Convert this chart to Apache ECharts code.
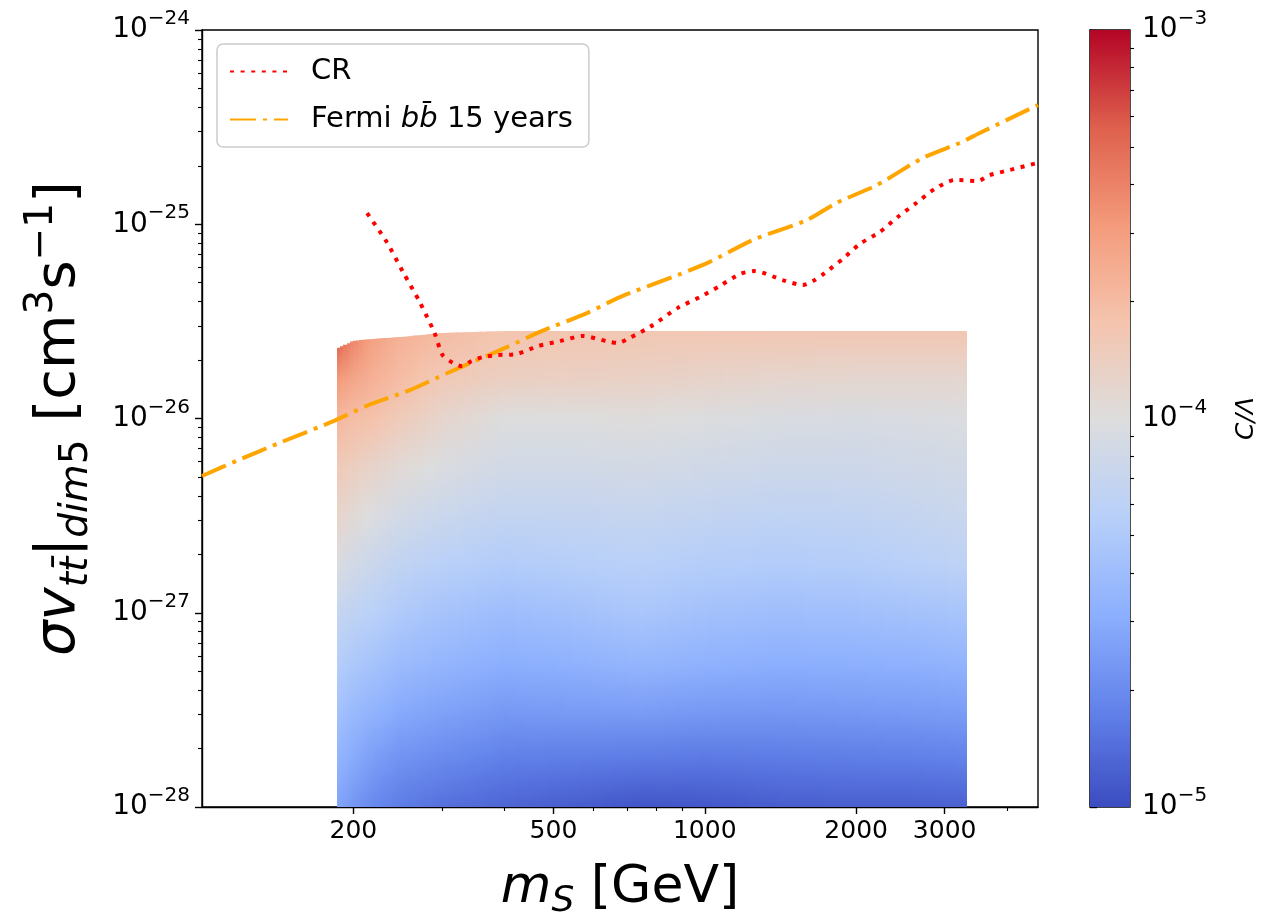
<!DOCTYPE html>
<html>
<head>
<meta charset="utf-8">
<script src="https://cdn.jsdelivr.net/npm/echarts@6/dist/echarts.min.js"></script>
<style>
html, body { margin: 0; padding: 0; background: #fff; }
#main { width: 1274px; height: 919px; }
</style>
</head>
<body>
<div id="main"></div>
<script>
// heat map: columns at these masses (GeV), rows at log10(sigma v), cells = log10(C/Lambda)
var heatMass = [186, 200, 220, 250, 300, 400, 550, 750, 1000, 1400, 2000, 2700, 3300];
var heatTop = [-25.64, -25.6, -25.59, -25.58, -25.56, -25.55, -25.55, -25.55, -25.55, -25.55, -25.55, -25.55, -25.55];
var heatRows = [-28, -27.75, -27.5, -27.25, -27, -26.75, -26.5, -26.25, -26, -25.8, -25.55];
var heatVals = [
    [-4.56, -4.46, -4.36, -4.26, -4.16, -4.02, -3.90, -3.80, -3.67, -3.50, -3.30],
    [-4.64, -4.53, -4.42, -4.31, -4.20, -4.08, -3.96, -3.85, -3.71, -3.57, -3.42],
    [-4.72, -4.60, -4.47, -4.35, -4.24, -4.13, -4.02, -3.90, -3.74, -3.64, -3.55],
    [-4.78, -4.66, -4.53, -4.41, -4.30, -4.19, -4.08, -3.96, -3.82, -3.71, -3.64],
    [-4.83, -4.70, -4.57, -4.45, -4.35, -4.24, -4.13, -4.02, -3.91, -3.80, -3.70],
    [-4.88, -4.76, -4.62, -4.50, -4.40, -4.28, -4.18, -4.08, -4.00, -3.86, -3.76],
    [-4.92, -4.77, -4.61, -4.48, -4.37, -4.26, -4.17, -4.08, -4.00, -3.87, -3.77],
    [-4.96, -4.78, -4.60, -4.45, -4.33, -4.24, -4.16, -4.07, -3.99, -3.88, -3.78],
    [-4.95, -4.79, -4.62, -4.48, -4.37, -4.27, -4.18, -4.09, -4.01, -3.90, -3.78],
    [-4.92, -4.78, -4.63, -4.50, -4.39, -4.28, -4.20, -4.11, -4.03, -3.92, -3.78],
    [-4.91, -4.77, -4.62, -4.49, -4.38, -4.27, -4.19, -4.11, -4.04, -3.93, -3.78],
    [-4.91, -4.76, -4.61, -4.48, -4.36, -4.24, -4.16, -4.09, -4.03, -3.93, -3.78],
    [-4.90, -4.75, -4.60, -4.46, -4.34, -4.21, -4.14, -4.08, -4.02, -3.93, -3.78]
];

// CR limit, sigma v in cm^3/s
var crMass = [213, 233, 251, 271, 290, 301, 316, 329, 344, 362, 386, 423, 466, 515, 572, 638, 671, 709, 778, 884, 978, 1071, 1174, 1257, 1429, 1566, 1655, 1732, 1880, 2033, 2228, 2420, 2639, 2866, 3141, 3490, 3688, 4037, 4600];
var crSigma = [1.14e-25, 8.1e-26, 5.68e-26, 3.98e-26, 2.76e-26, 2.12e-26, 1.93e-26, 1.86e-26, 1.98e-26, 2.07e-26, 2.12e-26, 2.15e-26, 2.36e-26, 2.5e-26, 2.66e-26, 2.5e-26, 2.45e-26, 2.6e-26, 2.96e-26, 3.71e-26, 4.22e-26, 4.81e-26, 5.54e-26, 5.74e-26, 5.16e-26, 4.86e-26, 5.16e-26, 5.61e-26, 6.62e-26, 7.91e-26, 9.12e-26, 1.09e-25, 1.29e-25, 1.52e-25, 1.69e-25, 1.67e-25, 1.79e-25, 1.9e-25, 2.07e-25];

// Fermi bb 15 years
var fermiMass = [100, 118, 144, 181, 214, 259, 307, 404, 470, 583, 678, 884, 1023, 1246, 1595, 1830, 2198, 2710, 3213, 3523, 4600];
var fermiSigma = [5.06e-27, 6.1e-27, 7.57e-27, 9.6e-27, 1.17e-26, 1.40e-26, 1.71e-26, 2.33e-26, 2.79e-26, 3.49e-26, 4.22e-26, 5.48e-26, 6.4e-26, 8.3e-26, 1.05e-25, 1.29e-25, 1.59e-25, 2.19e-25, 2.62e-25, 2.95e-25, 4.11e-25];

var xLabelTicks = [200, 500, 1000, 2000, 3000];
var xMinorTicks = [300, 400, 600, 700, 800, 900, 4000];
var yMajorExp = [-28, -27, -26, -25, -24];
var cbarTicks = [1e-5, 1e-4, 1e-3];

// y axis is drawn in units of 1e-28 cm^3/s (log scale rounds tiny numbers)
var Y0 = -28;
function ys(v) { return v * Math.pow(10, -Y0); }
var yMajorTicks = yMajorExp.map(function (e) { return Math.pow(10, e - Y0); });
var yMinorTicks = [];
for (var d = 0; d < 4; d++) {
    for (var k = 2; k <= 9; k++) yMinorTicks.push(k * Math.pow(10, d));
}
var cbarMinor = [];
for (var d2 = -5; d2 < -3; d2++) {
    for (var k2 = 2; k2 <= 9; k2++) cbarMinor.push(k2 * Math.pow(10, d2));
}

var FONT = 'DejaVu Sans';
var cwStops = ['#3b4cc0', '#6282ea', '#8db0fe', '#b8d0f9', '#dddddd', '#f5c4ad', '#f49a7b', '#de604d', '#b40426'];
function cw(t) {
    return echarts.color.lerp(Math.max(0, Math.min(1, t)), cwStops);
}
function powText(e) {
    return '{b|10}{s|' + (e < 0 ? '\u2212' : '') + Math.abs(e) + '}';
}
var powRich = {
    b: { fontSize: 28, fontFamily: FONT, color: '#000', lineHeight: 42 },
    s: { fontSize: 20, fontFamily: FONT, color: '#000', lineHeight: 42, verticalAlign: 'top' }
};

var myChart = echarts.init(document.getElementById('main'));
var fermiName = 'Fermi bb\u0304 15 years';

var option = {
    backgroundColor: '#fff',
    animation: false,
    grid: [
        { left: 202, top: 30, width: 836, height: 777, show: true, borderColor: '#000', borderWidth: 1.4, backgroundColor: 'transparent', containLabel: false, outerBoundsMode: 'none' },
        { left: 1090, top: 30, width: 40, height: 777, show: true, borderColor: '#000', borderWidth: 1.4, backgroundColor: 'transparent', containLabel: false, outerBoundsMode: 'none' }
    ],
    legend: {
        left: 217, top: 44,
        orient: 'vertical',
        padding: [13, 16, 13, 12],
        itemGap: 19,
        itemWidth: 58,
        itemHeight: 14,
        backgroundColor: '#fff',
        borderColor: '#cccccc',
        borderWidth: 1.5,
        borderRadius: 6,
        itemStyle: { opacity: 0 },
        data: ['CR', fermiName],
        formatter: function (name) {
            if (name === fermiName) return '{t|Fermi }{i|bb\u0304}{t| 15 years}';
            return '{t|' + name + '}';
        },
        textStyle: {
            fontSize: 29, fontFamily: FONT, color: '#000', padding: [0, 0, 0, 18],
            rich: {
                t: { fontSize: 29, fontFamily: FONT, color: '#000' },
                i: { fontSize: 29, fontFamily: FONT, color: '#000', fontStyle: 'italic' }
            }
        }
    },
    xAxis: [
        {
            type: 'log', gridIndex: 0, min: 100, max: 4600,
            axisLine: { lineStyle: { color: '#000', width: 1.4 } },
            axisTick: { customValues: xLabelTicks, length: 7, lineStyle: { color: '#000', width: 1.4 } },
            axisLabel: {
                customValues: xLabelTicks, fontSize: 25, fontFamily: FONT, color: '#000', margin: 12,
                formatter: function (v) { return String(Math.round(v)); }
            },
            splitLine: { show: false },
            name: '{i|m}{sub|S}{t| [GeV]}',
            nameLocation: 'middle',
            nameGap: 49,
            nameTextStyle: {
                rich: {
                    i: { fontSize: 52, fontFamily: FONT, fontStyle: 'italic', color: '#000', lineHeight: 64 },
                    sub: { fontSize: 36, fontFamily: FONT, fontStyle: 'italic', color: '#000', lineHeight: 64, verticalAlign: 'bottom' },
                    t: { fontSize: 52, fontFamily: FONT, color: '#000', lineHeight: 64 }
                }
            }
        },
        {
            type: 'log', gridIndex: 0, min: 100, max: 4600, position: 'bottom',
            axisLine: { show: false },
            axisTick: { customValues: xMinorTicks, length: 4, lineStyle: { color: '#000', width: 1.1 } },
            axisLabel: { show: false },
            splitLine: { show: false }
        },
        {
            type: 'value', gridIndex: 1, min: 0, max: 1, show: false
        }
    ],
    yAxis: [
        {
            type: 'log', gridIndex: 0, min: yMajorTicks[0], max: yMajorTicks[yMajorTicks.length - 1], position: 'left',
            axisLine: { show: true, lineStyle: { color: '#000', width: 1.4 } },
            axisTick: { show: true, customValues: yMajorTicks, length: 7, lineStyle: { color: '#000', width: 1.4 } },
            axisLabel: {
                customValues: yMajorTicks, rich: powRich, margin: 12,
                formatter: function (v) { return powText(Math.round(Math.log10(v)) + Y0); }
            },
            splitLine: { show: false },
            name: '{i|\u03c3v}{sub|tt\u0304}{t||}{sub|dim}{subr|5}{t| [cm}{sup|3}{t|s}{sup|\u22121}{t|]}',
            nameLocation: 'middle',
            nameRotate: 90,
            nameGap: 106,
            nameTextStyle: {
                rich: {
                    i: { fontSize: 56, fontFamily: FONT, fontStyle: 'italic', color: '#000', lineHeight: 74 },
                    t: { fontSize: 56, fontFamily: FONT, color: '#000', lineHeight: 74 },
                    sub: { fontSize: 39, fontFamily: FONT, fontStyle: 'italic', color: '#000', lineHeight: 74, verticalAlign: 'bottom' },
                    subr: { fontSize: 39, fontFamily: FONT, color: '#000', lineHeight: 74, verticalAlign: 'bottom' },
                    sup: { fontSize: 39, fontFamily: FONT, color: '#000', lineHeight: 74, verticalAlign: 'top' }
                }
            }
        },
        {
            type: 'log', gridIndex: 0, min: yMajorTicks[0], max: yMajorTicks[yMajorTicks.length - 1], position: 'left',
            axisLine: { show: false },
            axisTick: { show: true, customValues: yMinorTicks, length: 4, lineStyle: { color: '#000', width: 1.1 } },
            axisLabel: { show: false },
            splitLine: { show: false }
        },
        {
            type: 'log', gridIndex: 1, min: 1e-5, max: 1e-3, position: 'right',
            axisLine: { show: true, lineStyle: { color: '#000', width: 1.4 } },
            axisTick: { show: true, customValues: cbarTicks, length: 7, lineStyle: { color: '#000', width: 1.4 } },
            axisLabel: {
                customValues: cbarTicks, rich: powRich, margin: 12,
                formatter: function (v) { return powText(Math.round(Math.log10(v))); }
            },
            splitLine: { show: false },
            name: 'C/\u039b',
            nameLocation: 'middle',
            nameRotate: 90,
            nameGap: 104,
            nameTextStyle: { fontSize: 25, fontFamily: FONT, fontStyle: 'italic', color: '#000' }
        },
        {
            type: 'log', gridIndex: 1, min: 1e-5, max: 1e-3, position: 'right',
            axisLine: { show: false },
            axisTick: { show: true, customValues: cbarMinor, length: 4, lineStyle: { color: '#000', width: 1.1 } },
            axisLabel: { show: false },
            splitLine: { show: false }
        }
    ],
    series: [
        {
            name: 'heat',
            type: 'custom',
            xAxisIndex: 0, yAxisIndex: 0,
            z: 1,
            silent: true,
            data: heatMass.slice(0, -1).map(function (m, i) { return [m, 10, i]; }),
            encode: { x: 0, y: 1 },
            renderItem: function (params, api) {
                // span between column i and i+1, shaded in thin strips
                var i = api.value(2);
                var xa = api.coord([heatMass[i], 10])[0];
                var xb = api.coord([heatMass[i + 1], 10])[0];
                var yBot = api.coord([heatMass[i], 1])[1];
                var n = Math.max(1, Math.round((xb - xa) / 3));
                var children = [];
                for (var s = 0; s < n; s++) {
                    var f = (s + 0.5) / n;
                    var top = heatTop[i] * (1 - f) + heatTop[i + 1] * f;
                    var yTop = api.coord([heatMass[i], ys(Math.pow(10, top))])[1];
                    var h = yBot - yTop;
                    var stops = [];
                    for (var j = heatRows.length - 1; j >= 0; j--) {
                        var yy = api.coord([heatMass[i], ys(Math.pow(10, heatRows[j]))])[1];
                        var off = Math.max(0, Math.min(1, (yy - yTop) / h));
                        var v = heatVals[i][j] * (1 - f) + heatVals[i + 1][j] * f;
                        stops.push({ offset: off, color: cw((v + 5) / 2) });
                    }
                    var x0 = Math.floor(xa + (xb - xa) * s / n);
                    var x1 = Math.ceil(xa + (xb - xa) * (s + 1) / n);
                    children.push({
                        type: 'rect',
                        shape: { x: x0, y: yTop, width: x1 - x0 + 1, height: h },
                        style: { fill: new echarts.graphic.LinearGradient(0, 0, 0, 1, stops) }
                    });
                }
                return { type: 'group', children: children };
            }
        },
        {
            name: 'cbar',
            type: 'custom',
            xAxisIndex: 2, yAxisIndex: 2,
            z: 1,
            silent: true,
            data: [[0, 1e-5]],
            renderItem: function (params, api) {
                var p0 = api.coord([0, 1e-3]);
                var p1 = api.coord([1, 1e-5]);
                var stops = cwStops.map(function (c, i) {
                    return { offset: 1 - i / (cwStops.length - 1), color: c };
                }).reverse();
                return {
                    type: 'rect',
                    shape: { x: p0[0], y: p0[1], width: p1[0] - p0[0], height: p1[1] - p0[1] },
                    style: { fill: new echarts.graphic.LinearGradient(0, 0, 0, 1, stops) }
                };
            }
        },
        {
            name: 'CR',
            type: 'line',
            xAxisIndex: 0, yAxisIndex: 0,
            z: 4,
            symbol: 'none',
            smooth: 0.25,
            color: '#ff0000',
            lineStyle: { color: '#ff0000', width: 4, type: [4, 6.6] },
            data: crMass.map(function (m, i) { return [m, ys(crSigma[i])]; })
        },
        {
            name: fermiName,
            type: 'line',
            xAxisIndex: 0, yAxisIndex: 0,
            z: 3,
            symbol: 'none',
            smooth: 0.25,
            color: '#ffa500',
            lineStyle: { color: '#ffa500', width: 4, type: [26, 7, 4, 7] },
            data: fermiMass.map(function (m, i) { return [m, ys(fermiSigma[i])]; })
        }
    ]
};

myChart.setOption(option);
window.onresize = function () {
    myChart.resize();
};
</script>
</body>
</html>
